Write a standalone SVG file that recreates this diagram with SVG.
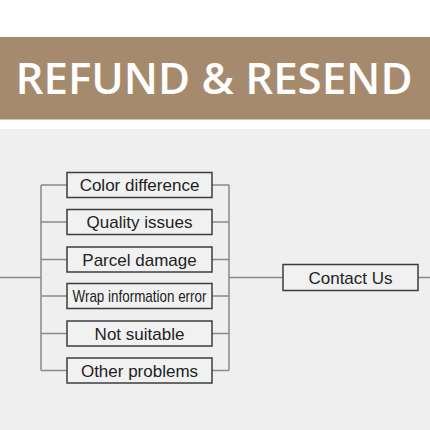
<svg xmlns="http://www.w3.org/2000/svg" width="430" height="430" viewBox="0 0 430 430">
<style>
.box{fill:#f1f1f1;stroke:#3c3c3c;stroke-width:1.5}
.lbl{font-family:"Liberation Sans",Arial,sans-serif;font-size:17px;fill:#222;text-anchor:middle}
.con{stroke:#8a8a8a;stroke-width:1.5;fill:none}
</style>
<rect x="0" y="0" width="430" height="430" fill="#ffffff"/>
<rect x="0" y="129" width="430" height="301" fill="#efefef"/>
<rect x="0" y="37" width="430" height="82.5" fill="#a68a6d"/>
<text x="214" y="94" font-family="'Open Sans','Noto Sans',sans-serif" font-weight="600" font-size="43" fill="#ffffff" text-anchor="middle" textLength="397" lengthAdjust="spacingAndGlyphs">REFUND &amp; RESEND</text>
<g id="connectors">
<path class="con" d="M0 277.5H41M41 185V370.5M41 185H67M41 222H67M41 259.5H67M41 296H67M41 333.5H67M41 370.5H67"/>
<path class="con" d="M212 185H229M212 222H229M212 259.5H229M212 296H229M212 333.5H229M212 370.5H229M229 185V370.5M229 277.5H283M418 277.5H430"/>
</g>
<g id="n1"><rect class="box" x="67" y="172.5" width="145" height="25"/><text class="lbl" x="139.5" y="191">Color difference</text></g>
<g id="n2"><rect class="box" x="67" y="209.5" width="145" height="25"/><text class="lbl" x="139.5" y="228">Quality issues</text></g>
<g id="n3"><rect class="box" x="67" y="247" width="145" height="25"/><text class="lbl" x="139.5" y="265.5">Parcel damage</text></g>
<g id="n4"><rect class="box" x="67" y="283.5" width="145" height="25"/><text class="lbl" x="139.5" y="301.5" font-size="14" textLength="134" lengthAdjust="spacingAndGlyphs">Wrap information error</text></g>
<g id="n5"><rect class="box" x="67" y="321" width="145" height="25"/><text class="lbl" x="139.5" y="339.5">Not suitable</text></g>
<g id="n6"><rect class="box" x="67" y="358" width="145" height="25"/><text class="lbl" x="139.5" y="376.5">Other problems</text></g>
<g id="n7"><rect class="box" x="283" y="264.5" width="135" height="26"/><text class="lbl" x="350.5" y="283.5">Contact Us</text></g>
</svg>
